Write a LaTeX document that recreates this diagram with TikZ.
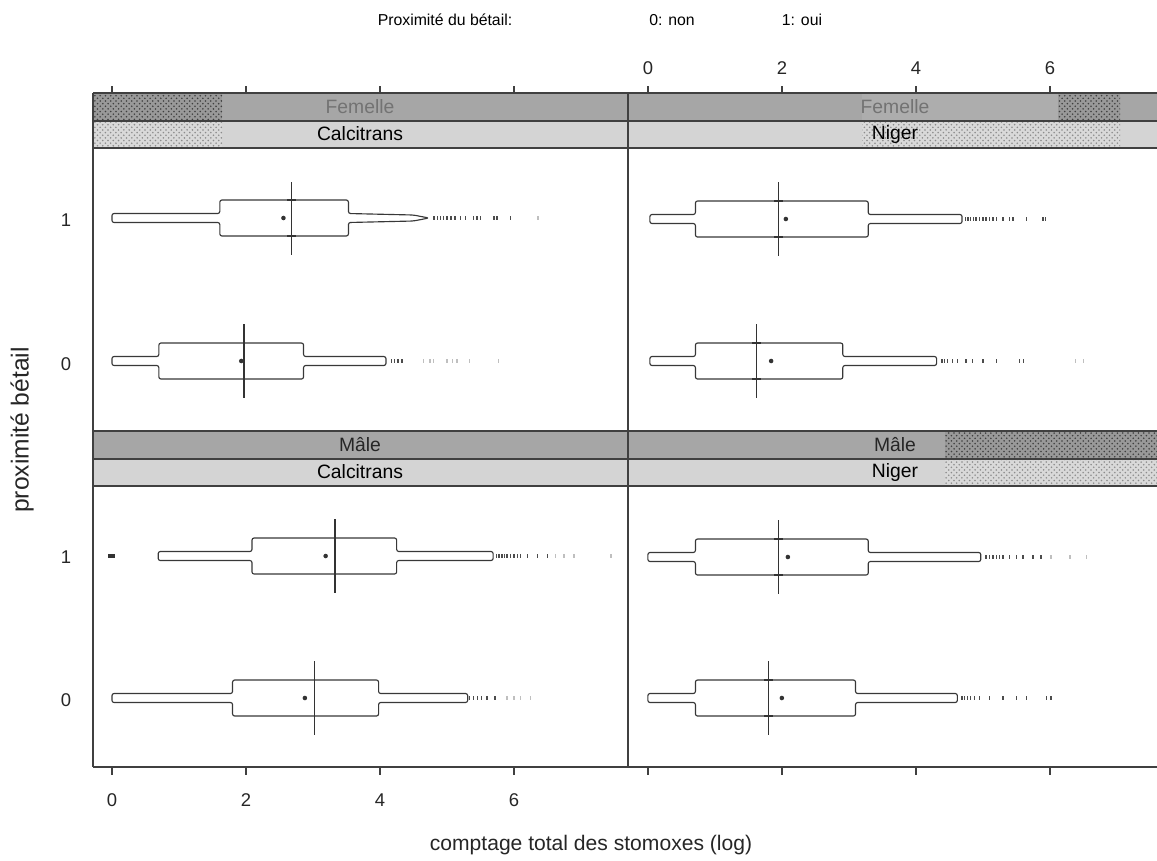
\documentclass[tikz,border=0pt]{standalone}
\usepackage{fontspec}
\setmainfont{Liberation Sans}
\usetikzlibrary{patterns}

% one notched box: y centre, min, q1, median, q3, max, mean
\newcommand{\bwrow}[7]{%
  \draw[boxline] (#2,#1-4.5) -- (#3,#1-4.5) -- (#3,#1-18) -- (#5,#1-18) -- (#5,#1-4.5) -- (#6,#1-4.5)
    -- (#6,#1+4.5) -- (#5,#1+4.5) -- (#5,#1+18) -- (#3,#1+18) -- (#3,#1+4.5) -- (#2,#1+4.5) -- cycle;
  \draw[medline] (#4,#1-37) -- (#4,#1+37);
  \fill[black!80] (#7,#1) circle (1.3pt);
}
% small ticks where the median crosses the box
\newcommand{\medmarks}[2]{%
  \draw[medline] (#2,#1-18) ++(-2.5pt,0) -- ++(5pt,0);
  \draw[medline] (#2,#1+18) ++(-2.5pt,0) -- ++(5pt,0);
}
% outliers: colour, y centre, list of values
\newcommand{\outl}[3]{%
  \foreach \o in {#3} \fill[#1] (\o,#2) ++(-0.4pt,-1.3pt) rectangle ++(0.8pt,2.6pt);
}

\begin{document}
\begin{tikzpicture}[x=0.02cm, y=-0.02cm, font=\fontsize{10.5}{12}\selectfont]
\tikzset{
  boxline/.style={draw=black!78, line width=0.65pt, rounded corners=1.2pt, line join=round},
  medline/.style={draw=black!80, line width=0.8pt},
  frame/.style={draw=black!75, line width=0.6pt},
  sexstrip/.style={fill=black!35},
  spstrip/.style={fill=black!17},
  darkdots/.style={fill=black!40, postaction={pattern=crosshatch dots, pattern color=black!75}},
  lightdots/.style={fill=black!15, postaction={pattern=crosshatch dots, pattern color=black!45}},
  tick/.style={draw=black!75, line width=0.6pt},
  striptext/.style={font=\fontsize{11}{13}\selectfont},
  outdark/.style={fill=black!70},
  outfaint/.style={fill=black!25}
}
\useasboundingbox (0,0) rectangle (1157,860);

%% LEGEND
\node (legtitle) at (445,20) {\fontsize{9}{11}\selectfont Proximité du bétail:};
\node (legno) at (672,20) {\fontsize{9}{11}\selectfont 0: non};
\node (legyes) at (802,20) {\fontsize{9}{11}\selectfont 1: oui};

%% STRIPS
% top row
\fill[sexstrip] (93,93) rectangle (1157,121);
\fill[spstrip] (93,121) rectangle (1157,148);
\fill[darkdots] (93,93) rectangle (222,121);
\fill[lightdots] (93,121) rectangle (222,148);
\fill[black!32] (862,93) rectangle (1058,121);
\fill[darkdots] (1058,93) rectangle (1120,121);
\fill[lightdots] (862,121) rectangle (1120,148);
% bottom row
\fill[sexstrip] (93,431) rectangle (1157,459);
\fill[spstrip] (93,459) rectangle (1157,486);
\fill[darkdots] (945,431) rectangle (1157,459);
\fill[lightdots] (945,459) rectangle (1157,486);
\foreach \yy in {93,121,148,431,459,486}
  \draw[frame] (93,\yy) -- (1157,\yy);

\node[striptext, text=black!55] (fem1) at (360,107) {Femelle};
\node[striptext] (calc1) at (360,134) {Calcitrans};
\node[striptext, text=black!55] (fem2) at (895,107) {Femelle};
\node[striptext] (nig1) at (895,134) {Niger};
\node[striptext, text=black!85] (male1) at (360,445) {Mâle};
\node[striptext] (calc2) at (360,472) {Calcitrans};
\node[striptext, text=black!85] (male2) at (895,445) {Mâle};
\node[striptext] (nig2) at (895,472) {Niger};

%% FRAMES AND AXES
\draw[frame] (93,93) -- (93,767);
\draw[frame] (628,93) -- (628,767);
\draw[frame] (93,767) -- (1157,767);
\foreach \t in {0,2,4,6} {
  \draw[tick] (112+67*\t,86) -- (112+67*\t,93);
  \draw[tick] (648+67*\t,86) -- (648+67*\t,93);
  \draw[tick] (112+67*\t,767) -- (112+67*\t,775);
  \draw[tick] (648+67*\t,767) -- (648+67*\t,775);
  \node[text=black!85] (xtop\t) at (648+67*\t,68) {\t};
  \node[text=black!85] (xbot\t) at (112+67*\t,800) {\t};
}
\node[text=black!85] (yl1a) at (66,220) {1};
\node[text=black!85] (yl0a) at (66,364) {0};
\node[text=black!85] (yl1b) at (66,557) {1};
\node[text=black!85] (yl0b) at (66,700) {0};
\node[rotate=90, text=black!85, font=\fontsize{14}{16}\selectfont] (ytitle) at (22,430) {proximité bétail};
\node[text=black!85, font=\fontsize{12}{14}\selectfont] (xtitle) at (591,845) {comptage total des stomoxes (log)};

%% FEMELLE / CALCITRANS
\begin{scope}[xshift=2.24cm, x=1.34cm]
  \draw[boxline] (0,213.5) -- (1.61,213.5) -- (1.61,200) -- (3.53,200) -- (3.53,213.5) -- (4.5,215)
    -- (4.73,218) -- (4.5,221) -- (3.53,222.5) -- (3.53,236) -- (1.61,236) -- (1.61,222.5) -- (0,222.5) -- cycle;
  \draw[medline] (2.68,182) -- (2.68,255);
  \medmarks{218}{2.68}
  \fill[black!80] (2.56,218) circle (1.3pt);
  \outl{outdark}{218}{4.81,4.86,4.9,4.95,5.0,5.06,5.12,5.2,5.28,5.4,5.45,5.5,5.7,5.75,5.95}
  \outl{outfaint}{218}{6.36}
  \bwrow{361}{0}{0.70}{1.97}{2.86}{4.09}{1.93}
  \outl{outdark}{361}{4.17,4.22,4.27,4.33}
  \outl{outfaint}{361}{4.65,4.75,4.8,5.0,5.08,5.15,5.34,5.77}
\end{scope}

%% FEMELLE / NIGER
\begin{scope}[xshift=12.96cm, x=1.34cm]
  \bwrow{219}{0.03}{0.71}{1.95}{3.29}{4.69}{2.06}
  \medmarks{219}{1.95}
  \outl{outdark}{219}{4.74,4.78,4.82,4.86,4.9,4.95,5.0,5.05,5.1,5.15,5.2,5.3,5.4,5.45,5.65,5.9,5.94}
  \bwrow{361}{0.03}{0.71}{1.62}{2.91}{4.31}{1.84}
  \medmarks{361}{1.62}
  \outl{outdark}{361}{4.39,4.43,4.47,4.55,4.62,4.75,4.85,5.0,5.2,5.55,5.61}
  \outl{outfaint}{361}{6.38,6.5}
\end{scope}

%% MALE / CALCITRANS
\begin{scope}[xshift=2.24cm, x=1.34cm]
  \bwrow{556}{0.69}{2.09}{3.33}{4.25}{5.69}{3.19}
  \fill[black!80] (0,556) ++(-2pt,-1pt) rectangle ++(4pt,2pt);
  \outl{outdark}{556}{5.74,5.78,5.82,5.86,5.9,5.95,6.0,6.05,6.1,6.2,6.35,6.5}
  \outl{outfaint}{556}{6.62,6.75,6.9,7.45}
  \bwrow{698}{0}{1.80}{3.02}{3.98}{5.31}{2.88}
  \outl{outdark}{698}{5.34,5.4,5.46,5.52,5.6,5.72}
  \outl{outfaint}{698}{5.9,6.0,6.1,6.25}
\end{scope}

%% MALE / NIGER
\begin{scope}[xshift=12.96cm, x=1.34cm]
  \bwrow{557}{0}{0.71}{1.95}{3.29}{4.97}{2.09}
  \medmarks{557}{1.95}
  \outl{outdark}{557}{5.05,5.1,5.15,5.2,5.25,5.3,5.4,5.5,5.6,5.75,5.87}
  \outl{outfaint}{557}{6.02,6.3,6.55}
  \bwrow{698}{0}{0.71}{1.80}{3.10}{4.62}{2.0}
  \medmarks{698}{1.80}
  \outl{outdark}{698}{4.69,4.73,4.77,4.82,4.88,4.95,5.1,5.3,5.5,5.65,5.95,6.02}
\end{scope}

\end{tikzpicture}
\end{document}
